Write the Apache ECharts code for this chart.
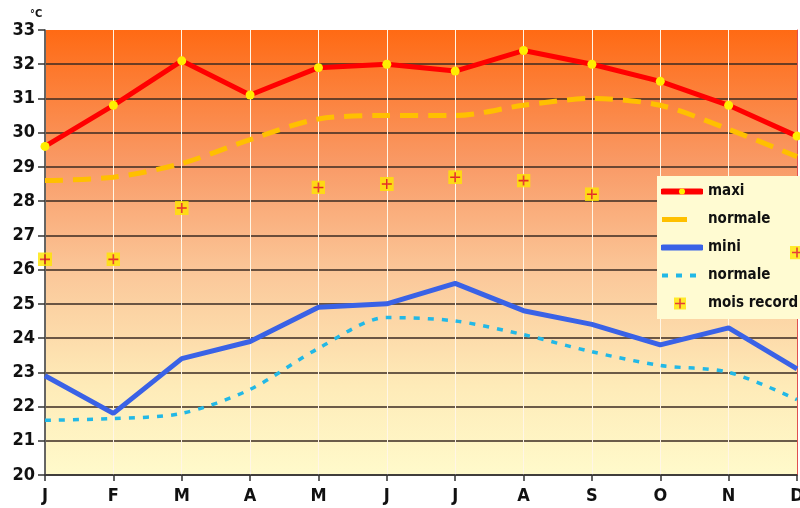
<!DOCTYPE html>
<html>
<head>
<meta charset="utf-8">
<script src="https://cdn.jsdelivr.net/npm/echarts@6/dist/echarts.min.js"></script>
<style>html,body{margin:0;padding:0;background:#fff}#c{width:800px;height:508px}</style>
</head>
<body>
<div id="c"></div>
<script>
const months = ['J','F','M','A','M','J','J','A','S','O','N','D'];
const maxi = [29.6,30.8,32.1,31.1,31.9,32.0,31.8,32.4,32.0,31.5,30.8,29.9];
const normaleMax = [28.6,28.7,29.1,29.8,30.4,30.5,30.5,30.8,31.0,30.8,30.1,29.3];
const mini = [22.9,21.8,23.4,23.9,24.9,25.0,25.6,24.8,24.4,23.8,24.3,23.1];
const normaleMin = [21.6,21.65,21.8,22.5,23.7,24.6,24.5,24.1,23.6,23.2,23.0,22.2];
const records = [26.3,26.3,27.8,null,28.4,28.5,28.7,28.6,28.2,null,null,26.5];
const yTicks = {min:20, max:33, interval:1};

const FONT = "'Liberation Sans Narrow','DejaVu Sans Condensed',sans-serif";
function svgUri(body, w, h){
  return 'image://data:image/svg+xml;charset=utf-8,' + encodeURIComponent(
    "<svg xmlns='http://www.w3.org/2000/svg' width='"+w+"' height='"+h+"'>"+body+"</svg>");
}
const recSymbol = svgUri("<rect width='14' height='14' fill='#FFE600'/><path d='M7 2V12M2 7H12' stroke='#E01010' stroke-width='1.6'/>",14,14);
const icMaxi = svgUri("<path d='M2 7H40' stroke='#FF0000' stroke-width='6' stroke-linecap='round'/><circle cx='21' cy='7' r='3' fill='#FFEE00'/>",42,14);
const icNmax = svgUri("<path d='M1 7H26' stroke='#FFC000' stroke-width='5'/>",42,14);
const icMini = svgUri("<path d='M2 7H40' stroke='#3A62E6' stroke-width='6' stroke-linecap='round'/>",42,14);
const icNmin = svgUri("<path d='M1 7H41' stroke='#22B8E6' stroke-width='4' stroke-dasharray='6 8'/>",42,14);
const icRec = svgUri("<rect x='13' y='1' width='12' height='12' fill='#FFE600'/><path d='M19 2V12M14 7H24' stroke='#E01010' stroke-width='1.5'/>",42,14);

const splitColors = [];
for (let v = yTicks.min; v <= yTicks.max; v += yTicks.interval) splitColors.push(v === yTicks.max ? 'rgba(0,0,0,0)' : '#3a2a22');

const chart = echarts.init(document.getElementById('c'), null, {renderer:'canvas'});
chart.setOption({
  animation:false,
  backgroundColor:'#ffffff',
  grid:{left:45, right:3, top:30, bottom:33, show:true, borderWidth:0, containLabel:false, outerBoundsMode:'none',
    backgroundColor:{type:'linear',x:0,y:0,x2:0,y2:1,colorStops:[
      {offset:0,color:'#FF6A14'},{offset:0.3,color:'#F99A66'},{offset:0.55,color:'#FBC89A'},
      {offset:0.8,color:'#FEEBB8'},{offset:1,color:'#FFFACB'}]}},
  graphic:[{type:'text', left:30, top:9, style:{text:'°C', font:"bold 11px "+FONT, fill:'#111'}}],
  legend:{
    orient:'vertical', left:657, top:176, width:140,
    backgroundColor:'#FFFBD2', padding:[8,8,8,4], itemGap:13,
    itemWidth:42, itemHeight:14,
    formatter: n => n.trim(),
    textStyle:{fontFamily:FONT, fontWeight:'bold', fontSize:15, color:'#111'},
    data:[
      {name:'maxi', icon:icMaxi},
      {name:'normale', icon:icNmax},
      {name:'mini', icon:icMini},
      {name:'normale ', icon:icNmin},
      {name:'mois record', icon:icRec}
    ]
  },
  xAxis:{
    type:'category', data:months, boundaryGap:false,
    axisLine:{show:true, lineStyle:{color:'#333', width:1.5}},
    axisTick:{show:true, length:6, lineStyle:{color:'#333', width:1.5}},
    axisLabel:{fontFamily:FONT, fontWeight:'bold', fontSize:18, color:'#111', margin:12, interval:0},
    splitLine:{show:true, lineStyle:{color:'#FFF6E6', width:1}}
  },
  yAxis:[{
    type:'value', min:yTicks.min, max:yTicks.max, interval:yTicks.interval,
    axisLine:{show:true, lineStyle:{color:'#333', width:1.5}},
    axisTick:{show:true, length:7, lineStyle:{color:'#333', width:1.5}},
    axisLabel:{fontFamily:FONT, fontWeight:'bold', fontSize:18, color:'#111', margin:10},
    splitLine:{show:true, lineStyle:{color:splitColors, width:1.6}}
  },{
    type:'value', min:yTicks.min, max:yTicks.max, interval:yTicks.interval, position:'right',
    axisLine:{show:true, lineStyle:{color:'#E05050', width:1}},
    axisTick:{show:false}, axisLabel:{show:false}, splitLine:{show:false}
  }],
  series:[
    {name:'maxi', type:'line', data:maxi, z:5,
     lineStyle:{color:'#FF0000', width:5}, itemStyle:{color:'#FFEE00'},
     symbol:'circle', symbolSize:9, showSymbol:true, color:'#FF0000'},
    {name:'normale', type:'line', data:normaleMax, smooth:0.3, z:4,
     lineStyle:{color:'#FFC000', width:5, type:[18,10]}, symbol:'none', color:'#FFC000'},
    {name:'mini', type:'line', data:mini, z:4,
     lineStyle:{color:'#3A62E6', width:5}, symbol:'none', color:'#3A62E6'},
    {name:'normale ', type:'line', data:normaleMin, smooth:0.3, z:4,
     lineStyle:{color:'#22B8E6', width:3.5, type:[6,8]}, symbol:'none', color:'#22B8E6'},
    {name:'mois record', type:'scatter', data:records, z:6,
     symbol:recSymbol, symbolSize:14}
  ]
});
</script>
</body>
</html>
